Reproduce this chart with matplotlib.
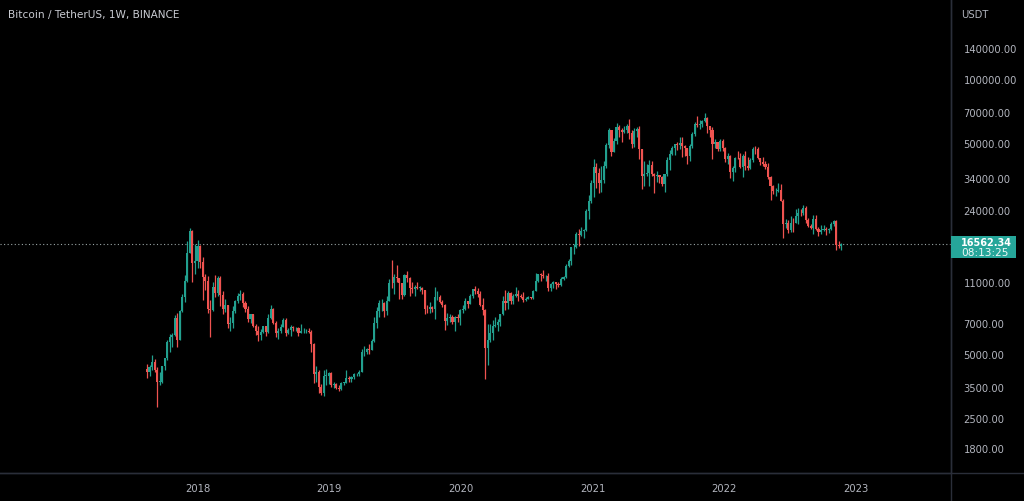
import matplotlib
matplotlib.use("Agg")
import matplotlib.pyplot as plt
import matplotlib.dates as mdates
import numpy as np
import pandas as pd

# ---------------- data (weekly BTC/USDT candles) ----------------
first_week = "2017-08-14"
first_open = 4261

week_close = [
    # 2017 (from Aug 14)
    4087, 4350, 4580, 4200, 3700, 3700, 4380, 4760, 5700, 6000, 6150, 7360, 5850, 8000, 9300, 11100,
    15000, 19100, 13500, 13700,
    # 2018
    16150, 13650, 11500, 11100, 8200, 8100, 10400, 9700, 11400, 9500, 8200, 8500, 6900,
    7000, 8000, 8900, 9400, 9650, 8700, 8200, 7350, 7700, 6750, 6450, 6150, 6350,
    6770, 6350, 7400, 8200, 7000, 6300, 6400, 6700, 7250, 6250, 6500, 6700, 6600,
    6600, 6300, 6400, 6400, 6400, 6380, 5550, 4000, 4100, 3500, 3250, 3950, 3950, 4050,
    # 2019
    3550, 3600, 3450, 3400, 3650, 3650, 3850, 3800, 3900, 4000, 4000, 4100,
    5100, 5100, 5300, 5200, 5750, 7000, 7950, 8700, 8730, 7950, 8900, 10850, 10800,
    11500, 11400, 10800, 9500, 11800, 11400, 10250, 10150, 10400, 10300, 10300, 10000, 8200,
    8150, 8300, 8200, 9250, 9300, 8800, 8500, 7150, 7400, 7500, 7100, 7500, 7400, 8050,
    # 2020
    8200, 8900, 8600, 9350, 10150, 9900, 9650, 8550, 8050, 5350, 5800, 6250, 6750,
    6850, 7100, 7700, 8900, 8700, 9700, 8900, 9450, 9650, 9350, 9300, 9000, 9100,
    9250, 9150, 9950, 11050, 11900, 11850, 11650, 11700, 10250, 10680, 10900, 10750, 10650,
    11350, 11500, 13000, 13750, 15950, 15950, 18400, 18200, 19150, 19250, 23850, 26450, 32200,
    # 2021
    38150, 36000, 32300, 33100, 38800, 48600, 57400, 45150, 50950, 59000, 57400, 55850, 57600,
    60000, 55600, 49000, 56600, 58250, 46450, 34700, 35650, 35800, 39100, 35500, 34700, 35300,
    34250, 31800, 35400, 41450, 44400, 47000, 49300, 48800, 49900, 48300, 47250, 43150, 48200,
    54950, 61500, 60850, 61300, 63300, 65500, 59700, 57300, 49400, 50100, 46700, 50800, 47300,
    # 2022
    41900, 43100, 36300, 37950, 42400, 42200, 38350, 43200, 38800, 37800, 41250, 46850, 46400,
    42150, 40400, 39450, 38450, 34300, 31300, 29450, 29450, 29850, 26600, 20550, 20750, 19300,
    20850, 20800, 22550, 23300, 23150, 24450, 21550, 20050, 19800, 21800, 19400, 18800, 19300,
    19400, 19200, 19550, 20650, 21300, 16330, 16280, 16562,
]

week_high = [
    # 2017
    4485, 4450, 4940, 4730, 4350, 4100, 4400, 4780, 5850, 6200, 6250, 7600, 7800, 8100, 9600, 11800,
    17200, 19800, 19200, 16500,
    # 2018
    17250, 16300, 14300, 12000, 11700, 9000, 11000, 11800, 11700, 11700, 9900, 9100, 8500,
    7500, 8400, 9000, 9750, 9990, 9800, 8900, 8400, 7750, 7750, 6900, 6800, 6550,
    6800, 6800, 7700, 8500, 8250, 7150, 6600, 6900, 7400, 7400, 6600, 6850, 6800,
    6700, 6700, 6900, 6600, 6550, 6600, 6500, 5650, 4400, 4200, 3600, 4200, 4250, 4100,
    # 2019
    4100, 3700, 3650, 3550, 3700, 3700, 4200, 3950, 3950, 4050, 4050, 4200,
    5300, 5450, 5350, 5600, 5900, 7450, 8350, 8950, 9100, 8800, 9350, 11300, 13970,
    12000, 13200, 11400, 10650, 12000, 12300, 11500, 10950, 10600, 10950, 10450, 10350, 10050,
    8500, 8800, 8400, 10350, 9950, 9550, 9000, 8600, 7850, 7750, 7650, 7550, 7700, 8200,
    # 2020
    8550, 9200, 8900, 9600, 10150, 10500, 10250, 9950, 9200, 8150, 6900, 6950, 7200,
    7450, 7300, 7750, 9450, 10000, 9950, 9850, 9600, 10400, 9990, 9600, 9800, 9300,
    9450, 9300, 9980, 12100, 11950, 12100, 12450, 11800, 12100, 10800, 11100, 10950, 10950,
    11500, 11700, 13350, 14100, 16000, 16500, 18900, 19400, 19900, 19400, 24300, 28400, 33300,
    # 2021
    41950, 40100, 37900, 38550, 40950, 49700, 58350, 57500, 52600, 61800, 60600, 58400, 60100,
    61200, 64850, 57500, 58450, 59500, 59600, 46650, 40850, 39500, 41300, 41000, 35800, 36600,
    35100, 34650, 35400, 42600, 46200, 48100, 49400, 50500, 52950, 52900, 48850, 47400, 49200,
    56000, 62900, 67000, 63700, 64250, 69000, 66300, 59500, 59000, 51950, 50200, 51900, 52100,
    # 2022
    47550, 44450, 43500, 38900, 42600, 45850, 44750, 44000, 45400, 42600, 42350, 47550, 48200,
    47500, 42400, 42950, 40800, 40000, 34800, 31350, 30600, 32200, 31750, 26900, 21850, 21550,
    22500, 22000, 24300, 24650, 24250, 25200, 25050, 21900, 20550, 22750, 22800, 19950, 20350,
    20450, 19950, 19700, 21100, 21500, 21450, 17200, 16800,
]

week_low = [
    # 2017
    3850, 3950, 4200, 4100, 2817, 3550, 3650, 4200, 4700, 5100, 5380, 6100, 5400, 5800, 7900, 8800,
    11000, 15000, 11000, 12000,
    # 2018
    12750, 12800, 9000, 10000, 7800, 6000, 8000, 9300, 9400, 8400, 7700, 7900, 6600,
    6450, 6600, 7800, 8700, 9000, 8300, 7900, 7050, 7000, 6700, 6150, 5750, 5800,
    6250, 6070, 6300, 7300, 6900, 6000, 5880, 6250, 6700, 6100, 6200, 6100, 6400,
    6450, 6050, 6300, 6300, 6250, 6300, 5100, 3650, 3700, 3250, 3200, 3150, 3550, 3600,
    # 2019
    3500, 3450, 3400, 3350, 3370, 3550, 3650, 3700, 3700, 3800, 3950, 3950,
    4100, 4900, 5000, 5000, 5200, 5700, 6600, 7450, 8000, 7450, 7600, 8900, 10300,
    9600, 11000, 9100, 9100, 9400, 11000, 9450, 9700, 9350, 10150, 9950, 9600, 7700,
    7800, 7800, 7900, 7300, 9000, 8700, 8300, 6500, 6850, 7100, 6950, 6450, 7100, 6850,
    # 2020
    7850, 8100, 8250, 8600, 9150, 9650, 9300, 8400, 7650, 3800, 4450, 5700, 5850,
    6700, 6450, 6750, 7650, 8100, 8200, 8650, 8600, 9250, 8900, 9200, 8850, 8900,
    9050, 9050, 9050, 9900, 10950, 11100, 11400, 11100, 9900, 9900, 10250, 10150, 10400,
    10530, 11200, 11400, 12950, 13200, 14850, 15800, 16200, 18000, 17600, 19000, 21800, 26000,
    # 2021
    27700, 30400, 28800, 29250, 32300, 38000, 47000, 43000, 45000, 49200, 53200, 50400, 55500,
    55400, 52000, 47000, 47900, 52900, 42000, 30000, 31100, 34800, 31000, 34800, 28800, 32700,
    32100, 31000, 29300, 34800, 37300, 43800, 43900, 46350, 46500, 42800, 43400, 39600, 40800,
    47000, 53900, 59500, 57800, 59400, 62300, 55600, 53250, 42000, 46900, 45500, 45550, 45700,
    # 2022
    40600, 39650, 34000, 32950, 36250, 41700, 37950, 34300, 37150, 37150, 37550, 40500, 44200,
    41900, 39250, 38550, 37700, 33700, 26700, 28650, 28000, 29300, 26550, 17600, 19650, 18600,
    18800, 18900, 20750, 20700, 22400, 22650, 20750, 19850, 19550, 18550, 19350, 18150, 18500,
    19000, 18200, 18650, 19250, 20050, 15600, 15800, 15500,
]

last_price_text = "16562.34"
countdown_text = "08:13:25"
y_tick_values = [1800, 2500, 3500, 5000, 7000, 11000, 24000, 34000, 50000, 70000, 100000, 140000]
year_ticks = ["2018", "2019", "2020", "2021", "2022", "2023"]
title_text = "Bitcoin / TetherUS, 1W, BINANCE"
currency_text = "USDT"

# ---------------- style ----------------
BG = "#000000"
UP = "#22a08f"
DOWN = "#ef5350"
LABEL_BG = "#26a69a"
GRID_LINE = "#2a2e39"
TXT = "#b2b5be"

W, H, DPI = 1024, 502, 100
fig = plt.figure(figsize=(W / DPI, H / DPI), dpi=DPI, facecolor=BG)
ax_w = 951 / W
ax_bottom = (H - 474) / H
ax_h = 474 / H
ax = fig.add_axes([0.0, ax_bottom, ax_w, ax_h], facecolor=BG)

closes = np.array(week_close, dtype=float)
highs = np.array(week_high, dtype=float)
lows = np.array(week_low, dtype=float)
opens = np.concatenate([[first_open], closes[:-1]])
dates = pd.date_range(first_week, periods=len(closes), freq="W-MON")
xs = mdates.date2num(dates.to_pydatetime())

up = closes >= opens
colors = np.where(up, UP, DOWN)

# wicks
ax.vlines(xs, lows, highs, colors=colors, linewidth=0.9, zorder=2)
# bodies
body_bottom = np.minimum(opens, closes)
body_top = np.maximum(opens, closes)
body_top = np.where(body_top / body_bottom < 1.006, body_bottom * 1.006, body_top)
ax.bar(xs, body_top - body_bottom, bottom=body_bottom, width=5.8, color=colors,
       linewidth=0, zorder=3)

ax.set_yscale("log")
ax.set_ylim(1366, 239100)

d0 = mdates.date2num(pd.Timestamp("2018-01-01"))
d1 = mdates.date2num(pd.Timestamp("2023-01-01"))
px_per_day = (856 - 197.5) / (d1 - d0)
ax.set_xlim(d0 - 197.5 / px_per_day, d1 + (951 - 856) / px_per_day)

# last price dotted line
last = float(last_price_text)
ax.axhline(last, color="#9aa6a6", linestyle=(0, (1, 2.2)), linewidth=0.8, zorder=1)

# axes styling
for s in ["top", "left"]:
    ax.spines[s].set_visible(False)
for s in ["right", "bottom"]:
    ax.spines[s].set_color(GRID_LINE)
    ax.spines[s].set_linewidth(1.0)
ax.yaxis.tick_right()
ax.set_yticks(y_tick_values)
ax.set_yticklabels([f"{v:.2f}" for v in y_tick_values], color=TXT, fontsize=7.2,
                   family="DejaVu Sans")
ax.yaxis.set_minor_locator(matplotlib.ticker.NullLocator())
ax.tick_params(axis="y", which="both", pad=9, length=0)

year_pos = [mdates.date2num(pd.Timestamp(f"{y}-01-01")) for y in year_ticks]
ax.set_xticks(year_pos)
ax.set_xticklabels(year_ticks, color=TXT, fontsize=7.2, family="DejaVu Sans")
ax.tick_params(axis="x", pad=7, length=0)
ax.grid(False)

# title
fig.text(8 / W, 1 - 15 / H, title_text, color="#c9cbd2", fontsize=7.6, va="center", ha="left")
# currency label
fig.text(961 / W, 1 - 15 / H, currency_text, color=TXT, fontsize=7.2, va="center", ha="left")

# price label box
box_x0, box_x1 = 951 / W, 1016 / W
box_y0, box_y1 = 1 - 259 / H, 1 - 237 / H
fig.patches.append(matplotlib.patches.Rectangle((box_x0, box_y0), box_x1 - box_x0, box_y1 - box_y0,
                                                transform=fig.transFigure, facecolor=LABEL_BG,
                                                edgecolor="none", zorder=5))
fig.text(961 / W, 1 - 243 / H, last_price_text, color="white", fontsize=7.0, fontweight="bold",
         va="center", ha="left", zorder=6)
fig.text(961 / W, 1 - 253.5 / H, countdown_text, color="#eef8f6", fontsize=7.6,
         va="center", ha="left", zorder=6)

# frame lines on right panel
fig.add_artist(matplotlib.lines.Line2D([951 / W, 951 / W], [0, 1], color=GRID_LINE, linewidth=1.0,
                                       transform=fig.transFigure))
fig.add_artist(matplotlib.lines.Line2D([0, 1], [ax_bottom, ax_bottom], color=GRID_LINE,
                                       linewidth=1.0, transform=fig.transFigure))

fig.savefig("out.png", dpi=DPI, facecolor=BG)
